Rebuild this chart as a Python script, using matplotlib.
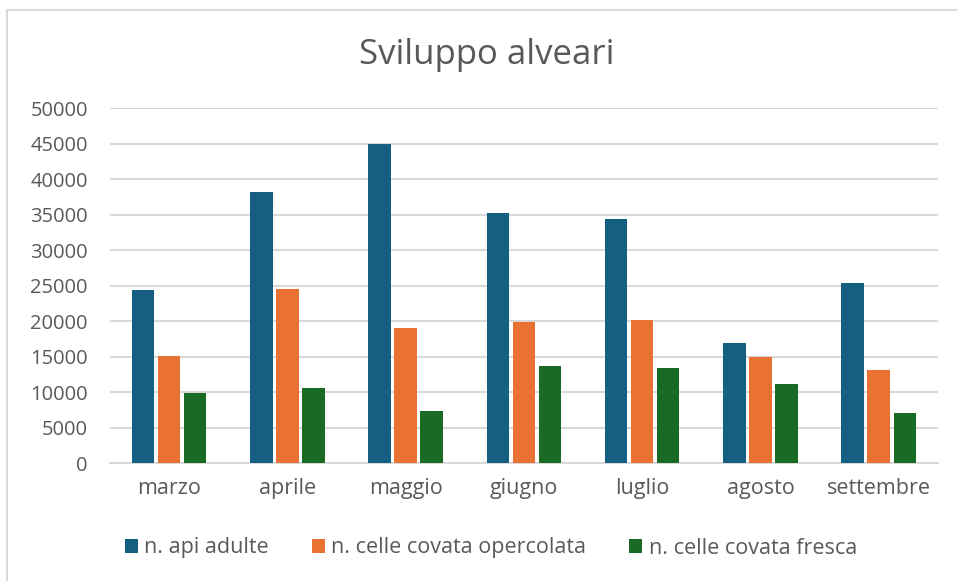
import matplotlib
matplotlib.use("Agg")
import matplotlib.pyplot as plt
import numpy as np

# dati
mesi = ["marzo", "aprile", "maggio", "giugno", "luglio", "agosto", "settembre"]
api_adulte = [24400, 38200, 45000, 35200, 34400, 16900, 25400]
covata_opercolata = [15100, 24500, 19000, 19800, 20100, 14900, 13100]
covata_fresca = [9900, 10600, 7300, 13700, 13400, 11200, 7100]

serie = ["n. api adulte", "n. celle covata opercolata", "n. celle covata fresca"]
colori = ["#156082", "#E97132", "#196B24"]
testo = "#595959"

plt.rcParams["font.family"] = ["Open Sans", "DejaVu Sans"]

fig = plt.figure(figsize=(9.57, 5.81), dpi=100)
ax = fig.add_axes([0.115, 0.203, 0.865, 0.611])

x = np.arange(len(mesi))
w = 0.19
off = 0.22
for i, (vals, c, lab) in enumerate(zip([api_adulte, covata_opercolata, covata_fresca], colori, serie)):
    ax.bar(x + (i - 1) * off, vals, width=w, color=c, label=lab, zorder=3)

ax.set_xlim(-0.5, len(mesi) - 0.5)
ax.set_ylim(0, 50000)
ax.set_yticks(range(0, 50001, 5000))
ax.set_xticks(x)
ax.set_xticklabels(mesi)
ax.yaxis.grid(True, color="#D9D9D9", linewidth=1.5, zorder=0)
ax.tick_params(length=0, colors=testo)
ax.tick_params(axis="x", pad=11, labelsize=15.5)
ax.tick_params(axis="y", pad=16, labelsize=14.5)
for s in ["top", "right", "left"]:
    ax.spines[s].set_visible(False)
ax.spines["bottom"].set_color("#D9D9D9")
ax.spines["bottom"].set_linewidth(1.5)

fig.text(0.509, 1 - 55 / 581, "Sviluppo alveari", ha="center", va="center",
         fontsize=25, color=testo)

fig.legend(loc="center", bbox_to_anchor=(491 / 957, 1 - 548 / 581), ncol=3,
           frameon=False, fontsize=15.5, handlelength=0.6, handleheight=0.6,
           handletextpad=0.3, columnspacing=2.0, labelcolor=testo)

# bordo del grafico
fig.add_artist(plt.Line2D([7 / 957, 1], [1 - 10 / 581, 1 - 10 / 581], color="#D9D9D9", linewidth=1.5))
fig.add_artist(plt.Line2D([7 / 957, 7 / 957], [0, 1 - 10 / 581], color="#D9D9D9", linewidth=1.5))

fig.savefig("out.png", dpi=100)
